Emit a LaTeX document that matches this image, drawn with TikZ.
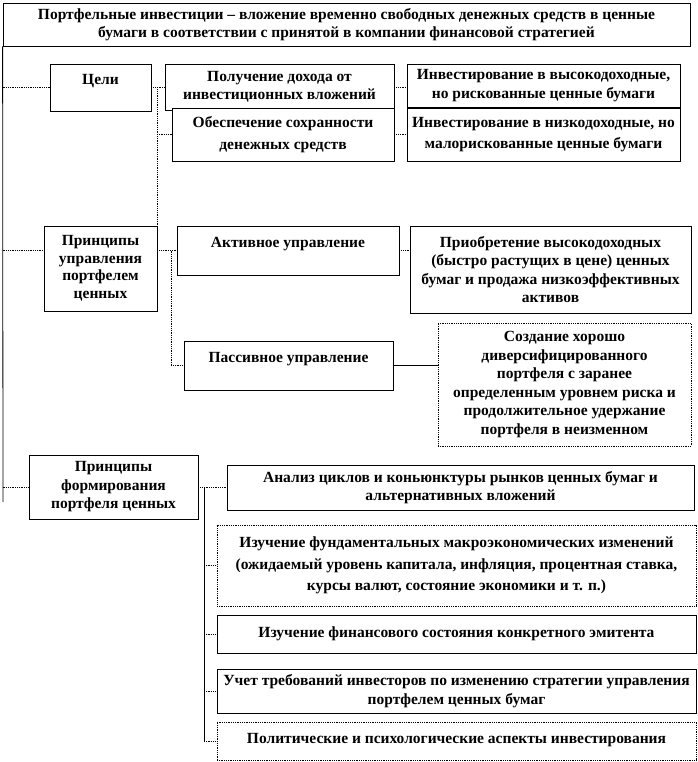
\documentclass[tikz,border=0pt]{standalone}
\usepackage{fontspec}
\setmainfont{Liberation Serif}
\usetikzlibrary{calc}

\tikzset{
  box/.style={draw, fill=white, line width=0.8pt, align=center, inner xsep=3pt, inner ysep=2pt,
              font=\fontsize{15.5}{18.5}\selectfont\bfseries},
  dbox/.style={box, densely dotted},
  tight/.style={font=\fontsize{15.5}{17.5}\selectfont\bfseries},
  loose/.style={font=\fontsize{15.5}{21.5}\selectfont\bfseries},
  link/.style={densely dotted, line width=0.8pt},
  wire/.style={line width=0.8pt},
}

\begin{document}
\begin{tikzpicture}[x=1pt, y=-1pt]
  \useasboundingbox (0,0) rectangle (697,762);

  % header
  \node[box, tight, minimum width=687pt, minimum height=43pt] (port) at (346.5,24.5)
    {Портфельные инвестиции – вложение временно свободных денежных средств в ценные\\
     бумаги в соответствии с принятой в компании финансовой стратегией};

  % goals
  \node[box, minimum width=101pt, text height=19pt, text depth=24pt] (goals) at (100.5,87.5) {Цели};
  \node[box, minimum width=229pt, minimum height=46pt] (income) at (279.5,87)
    {Получение дохода от\\ инвестиционных вложений};
  \node[box, loose, minimum width=222pt, minimum height=53pt] (safety) at (283,134.5)
    {Обеспечение сохранности\\ денежных средств};
  \node[box, minimum width=273pt, minimum height=43pt] (high) at (543.5,85.5)
    {Инвестирование в высокодоходные,\\ но рискованные ценные бумаги};
  \node[box, loose, minimum width=273pt, minimum height=53pt] (low) at (543.5,134.5)
    {Инвестирование в низкодоходные, но\\ малорискованные ценные бумаги};

  % management
  \node[box, tight, minimum width=113pt, minimum height=85pt] (mgmt) at (100.5,268.5)
    {Принципы\\ управления\\ портфелем\\ ценных};
  \node[box, minimum width=222pt, text height=19pt, text depth=26pt] (active) at (288,250.5)
    {Активное управление};
  \node[box, minimum width=281pt, minimum height=87pt] (buy) at (550.5,269.5)
    {Приобретение высокодоходных\\ (быстро растущих  в цене) ценных\\
     бумаг  и продажа низкоэффективных\\ активов};
  \node[box, minimum width=209pt, text height=19pt, text depth=26pt] (passive) at (288.5,365.5)
    {Пассивное управление};
  \node[dbox, minimum width=253pt, minimum height=123pt] (create) at (564.5,384.5)
    {Создание хорошо\\ диверсифицированного\\ портфеля с заранее\\
     определенным уровнем риска и\\ продолжительное удержание\\ портфеля в неизменном};

  % forming
  \node[box, minimum width=169pt, minimum height=64pt] (form) at (113.5,487)
    {Принципы\\ формирования\\ портфеля ценных};
  \node[box, minimum width=467pt, minimum height=45pt] (cycle) at (460.5,487.5)
    {Анализ циклов и коньюнктуры рынков ценных бумаг и\\ альтернативных вложений};
  \node[dbox, loose, minimum width=479pt, minimum height=81pt] (macro) at (456.5,565.5)
    {Изучение фундаментальных  макроэкономических  изменений\\
     (ожидаемый уровень капитала, инфляция, процентная ставка,\\
     курсы  валют, состояние экономики и т. п.)};
  \node[box, minimum width=479pt, minimum height=38pt] (issuer) at (456.5,634)
    {Изучение финансового состояния конкретного эмитента};
  \node[box, minimum width=479pt, minimum height=44pt] (demand) at (456.5,691)
    {Учет требований инвесторов по изменению стратегии управления\\ портфелем ценных бумаг};
  \node[dbox, minimum width=479pt, text height=19pt, text depth=15pt] (politic) at (456.5,741)
    {Политические и психологические  аспекты инвестирования};

  % connectors
  \coordinate (trunkend) at (3,502);
  \coordinate (gbus) at (157,0);
  \coordinate (mbus) at (171,0);
  \coordinate (fbus) at (204,0);

  \draw[wire] (port.south west) -- (trunkend);
  \draw[link] (port.south west |- goals.west) -- (goals.west);
  \draw[link] (goals.east) -- (income.west |- goals.east);
  \draw[link] (gbus |- goals.east) -- (gbus |- mgmt.north);
  \draw[link] (gbus |- safety.west) -- (safety.west);
  \draw[link] (income.east) -- (high.west |- income.east);
  \draw[link] (safety.east) -- (low.west |- safety.east);
  \draw[link] (port.south west |- active.west) -- (mgmt.west |- active.west);
  \draw[link] (mgmt.east |- active.west) -- (active.west);
  \draw[link] (mbus |- active.west) -- (mbus |- passive.west) -- (passive.west);
  \draw[link] (active.east) -- (buy.west |- active.east);
  \draw[wire] (passive.east) -- (create.west |- passive.east);
  \draw[link] (port.south west |- form.west) -- (form.west);
  \draw[link] (form.east) -- (cycle.west |- form.east);
  \draw[wire] (fbus |- form.east) -- (fbus |- politic.west);
  \foreach \n in {macro, issuer, demand, politic}
    \draw[link] (fbus |- \n.west) -- (\n.west);
\end{tikzpicture}
\end{document}
